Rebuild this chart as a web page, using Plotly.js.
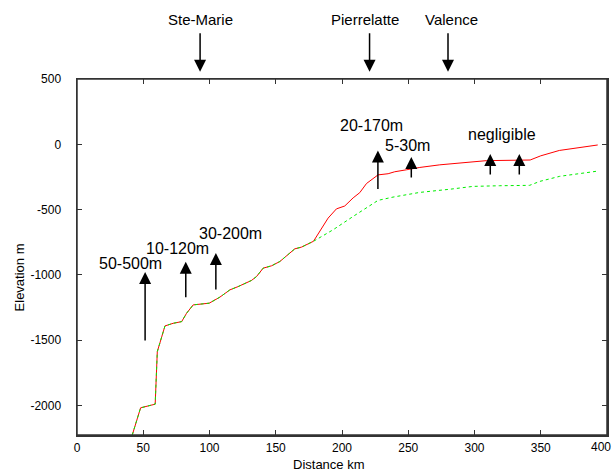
<!DOCTYPE html>
<html>
<head>
<meta charset="utf-8">
<script src="https://cdn.plot.ly/plotly-3.0.1.min.js"></script>
<style>html,body{margin:0;padding:0;background:#fff;}#chart{width:614px;height:473px;}</style>
</head>
<body>
<div id="chart"></div>
<script>
// Common profile (both curves coincide up to ~178 km)
const sharedDist = [41.7, 48, 59, 60.6, 66.4, 72.6, 79, 82.7, 87.7, 99.8, 107.8, 115.4, 121.6, 131.7, 135.5, 140.5, 146.8, 153.1, 164.4, 169.4, 178.5];
const sharedElev = [-2225, -2017, -1989, -1587, -1390, -1370, -1357, -1293, -1229, -1216, -1170, -1114, -1089, -1042, -1012, -948, -930, -897, -800, -787, -742];

// Red (solid) profile beyond the junction
const redDist = [189.5, 195.8, 202.1, 208.4, 213.4, 218.5, 222.6, 227.2, 234.8, 239.8, 248.6, 258.7, 273.8, 288.8, 309, 342, 350, 364, 393];
const redElev = [-565, -494, -472, -410, -370, -300, -268, -234, -225, -210, -195, -177, -157, -143, -125, -120, -88, -47, -5];

// Green (dashed) profile beyond the junction
const greenDist = [193.3, 208.4, 227.2, 238.5, 258.7, 281.3, 298.9, 319, 341.6, 349.2, 364.3, 393];
const greenElev = [-654, -552, -429, -404, -368, -344, -322, -317, -314, -284, -245, -205];

// Tick values / labels (last x label drawn separately so it stays inside the frame)
const xTickVals = [0, 50, 100, 150, 200, 250, 300, 350, 400];
const xTickText = ['0', '50', '100', '150', '200', '250', '300', '350', ''];
const xLastTickLabel = '400';
const yTickVals = [500, 0, -500, -1000, -1500, -2000];
const yTickText = ['500', '0', '-500', '-1000', '-1500', '-2000'];

// Labels
const placeNames = ['Ste-Marie', 'Pierrelatte', 'Valence'];
const offsetLabels = ['50-500m', '10-120m', '30-200m', '20-170m', '5-30m', 'negligible'];

const font = 'Liberation Sans, Arial, Helvetica, sans-serif';

const traces = [
  {x: sharedDist.concat(redDist), y: sharedElev.concat(redElev), mode: 'lines',
   line: {color: '#ff0000', width: 1}, hoverinfo: 'skip'},
  {x: sharedDist.concat(greenDist), y: sharedElev.concat(greenElev), mode: 'lines',
   line: {color: '#00ee00', width: 1, dash: '3px,3px'}, hoverinfo: 'skip'}
];

const arrowStyle = {showarrow: true, arrowhead: 2, arrowsize: 1.6, arrowwidth: 1.5, arrowcolor: '#000', standoff: 0, text: '', ax: 0};
const annotations = [];
// Top place arrows (pointing down)
[[92.9, placeNames[0], 92.9], [220.8, placeNames[1], 217.4], [280, placeNames[2], 283]].forEach(([ax, name, tx]) => {
  annotations.push(Object.assign({}, arrowStyle, {x: ax, y: 1.0205, xref: 'x', yref: 'paper', ay: -40}));
  annotations.push({x: tx, y: 1.166, xref: 'x', yref: 'paper', text: name, showarrow: false,
    font: {family: font, size: 15, color: '#000'}, xanchor: 'center', yanchor: 'middle'});
});
// Offset arrows (pointing up)
[[51.4, -978, 70], [82.1, -899, 37], [104.8, -832, 38], [227.1, -47, 40], [252.3, -98, 22], [311.9, -74, 22], [333.8, -74, 22]].forEach(([x, y, ay]) => {
  annotations.push(Object.assign({}, arrowStyle, {x: x, y: y, xref: 'x', yref: 'y', ay: ay}));
});
[[40, -909], [76.2, -794], [115.5, -679], [221.9, 145], [249.8, -11], [320.5, 74]].forEach(([x, y], i) => {
  annotations.push({x: x, y: y, xref: 'x', yref: 'y', text: offsetLabels[i], showarrow: false,
    font: {family: font, size: 16, color: '#000'}, xanchor: 'center', yanchor: 'middle'});
});
// Last x tick label
annotations.push({x: 1.0113, y: -0.034, xref: 'paper', yref: 'paper', text: xLastTickLabel, showarrow: false,
  font: {family: font, size: 12, color: '#000'}, xanchor: 'right', yanchor: 'middle'});
// Axis titles
annotations.push({x: 0.475, y: -0.083, xref: 'paper', yref: 'paper', text: 'Distance km', showarrow: false,
  font: {family: font, size: 13, color: '#000'}, xanchor: 'center', yanchor: 'middle'});
annotations.push({x: -0.1085, y: 0.444, xref: 'paper', yref: 'paper', text: 'Elevation m', showarrow: false,
  textangle: -90, font: {family: font, size: 13, color: '#000'}, xanchor: 'center', yanchor: 'middle'});

const layout = {
  width: 614, height: 473,
  margin: {l: 77, r: 7, t: 79, b: 38, pad: 0},
  paper_bgcolor: '#fff', plot_bgcolor: '#fff',
  showlegend: false,
  font: {family: font, color: '#000'},
  xaxis: {range: [0, 400], tickvals: xTickVals, ticktext: xTickText, ticks: 'inside', ticklen: 5,
    tickcolor: '#333', showline: true, linecolor: '#333', linewidth: 1.5, mirror: 'ticks',
    showgrid: false, zeroline: false, tickfont: {family: font, size: 12, color: '#000'},
    ticklabelstandoff: 1},
  yaxis: {range: [-2225, 500], tickvals: yTickVals, ticktext: yTickText, ticks: 'inside', ticklen: 5,
    tickcolor: '#333', showline: true, linecolor: '#333', linewidth: 1.5, mirror: 'ticks',
    showgrid: false, zeroline: false, tickfont: {family: font, size: 12, color: '#000'}, ticklabelstandoff: 12},
  shapes: [{type: 'rect', xref: 'paper', yref: 'paper', x0: 0, x1: 1, y0: 0, y1: 1,
    line: {color: '#333', width: 1.5}, fillcolor: 'rgba(0,0,0,0)'}],
  annotations: annotations
};

Plotly.newPlot('chart', traces, layout, {staticPlot: true, displayModeBar: false});
</script>
</body>
</html>
